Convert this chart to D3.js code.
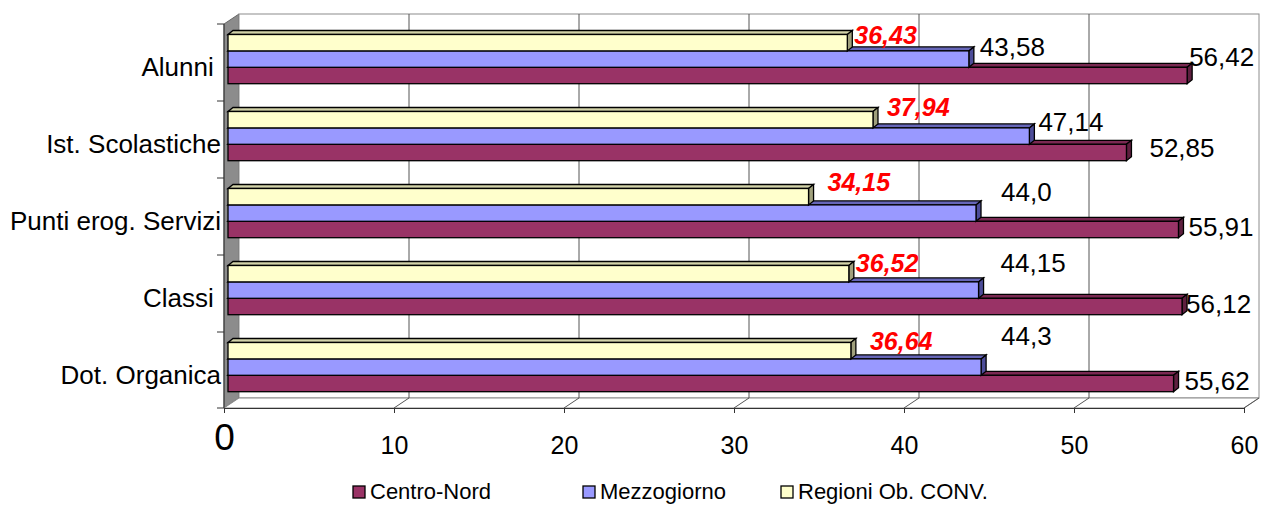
<!DOCTYPE html>
<html>
<head>
<meta charset="utf-8">
<script src="https://cdn.jsdelivr.net/npm/d3@7"></script>
<style>
  body { margin: 0; background: #fff; }
  svg { display: block; font-family: "Liberation Sans", Arial, sans-serif; }
  .cat { white-space: pre; }
</style>
</head>
<body>
<script>
// data
var categories = ["Alunni", "Ist. Scolastiche", "Punti erog. Servizi", "Classi", "Dot. Organica"];
var centroNord = [56.42, 52.85, 55.91, 56.12, 55.62];
var mezzogiorno = [43.58, 47.14, 44.0, 44.15, 44.3];
var regioniConv = [36.43, 37.94, 34.15, 36.52, 36.64];
var centroNordLabels = ["56,42", "52,85", "55,91", "56,12", "55,62"];
var mezzogiornoLabels = ["43,58", "47,14", "44,0", "44,15", "44,3"];
var regioniConvLabels = ["36,43", "37,94", "34,15", "36,52", "36,64"];
var xTicks = [0, 10, 20, 30, 40, 50, 60];
var seriesNames = ["Centro-Nord", "Mezzogiorno", "Regioni Ob. CONV."];

// layout (manual label nudges as in the excel sheet, px from bar end / bar top)
var labelNudge = {
  "Centro-Nord": [[2, -1], [23, 13], [10, 15], [4, 15], [11, 15]],
  "Mezzogiorno": [[11, 5], [9, 3], [25, -4], [22, -10], [20, -14]],
  "Regioni Ob. CONV.": [[7, 9], [14, 4], [19, 2], [7, 6], [19, 7]]
};
var legendX = [353, 583, 781];

var width = 1261, height = 505;
var depth = {dx: 15, dy: -10};   // wall depth
var bar3d = {dx: 5, dy: -4};     // bar depth
var barShift = 4;

var series = [
  {name: seriesNames[0], values: centroNord, labels: centroNordLabels, face: "#993366", top: "#7a2952", side: "#5e1f3f", label: "#000", weight: "normal", style: "normal"},
  {name: seriesNames[1], values: mezzogiorno, labels: mezzogiornoLabels, face: "#9999ff", top: "#6666b8", side: "#4d4d99", label: "#000", weight: "normal", style: "normal"},
  {name: seriesNames[2], values: regioniConv, labels: regioniConvLabels, face: "#ffffcc", top: "#d2d2a8", side: "#a0a07c", label: "#ff0000", weight: "bold", style: "italic"}
];

var x = d3.scaleLinear().domain([0, 60]).range([224, 1244]);
var y = d3.scaleBand().domain(categories).range([24, 409]);
var inner = d3.scaleBand().domain(seriesNames.slice().reverse()).range([10.5, 59.7]);

var svg = d3.select("body").append("svg")
  .attr("width", width)
  .attr("height", height);

var yFront = y.range()[1] - 1, yTop = y.range()[0];

// side wall
svg.append("polygon")
  .attr("points", [[x(0), yTop], [x(0) + depth.dx, yTop + depth.dy], [x(0) + depth.dx, yFront + depth.dy], [x(0), yFront]].join(" "))
  .attr("fill", "#8c8c8c")
  .attr("stroke", "#666");

// back wall
svg.append("rect")
  .attr("x", x(0) + depth.dx)
  .attr("y", yTop + depth.dy)
  .attr("width", x(60) - x(0))
  .attr("height", yFront - yTop)
  .attr("fill", "#fff")
  .attr("stroke", "#8c8c8c");

// floor
svg.append("polygon")
  .attr("points", [[x(0), yFront], [x(0) + depth.dx, yFront + depth.dy], [x(60) + depth.dx, yFront + depth.dy], [x(60), yFront]].join(" "))
  .attr("fill", "#fff")
  .attr("stroke", "#8c8c8c");

// gridlines
svg.selectAll(".grid").data(xTicks.slice(1, -1)).enter().append("line")
  .attr("class", "grid")
  .attr("x1", d => x(d) + depth.dx).attr("x2", d => x(d) + depth.dx)
  .attr("y1", yTop + depth.dy).attr("y2", yFront + depth.dy)
  .attr("stroke", "#555");

svg.selectAll(".floorline").data(xTicks.slice(1)).enter().append("line")
  .attr("class", "floorline")
  .attr("x1", d => x(d) + depth.dx).attr("x2", d => x(d))
  .attr("y1", yFront + depth.dy).attr("y2", yFront)
  .attr("stroke", "#555");

// x axis on the front edge
var xAxis = d3.axisBottom(x).tickValues(xTicks).tickSize(5).tickPadding(23).tickFormat(d3.format("d"));
var gx = svg.append("g")
  .attr("transform", "translate(0," + yFront + ")")
  .call(xAxis);
gx.select(".domain").attr("stroke", "#333");
gx.selectAll(".tick line").attr("stroke", "#333");
gx.selectAll(".tick text")
  .attr("font-size", 25)
  .attr("font-family", "Liberation Sans, Arial, sans-serif")
  .attr("fill", "#000");
gx.selectAll(".tick text").filter(d => d === 0)
  .attr("font-size", 37)
  .attr("y", 16);

// category axis
svg.append("line")
  .attr("x1", x(0)).attr("x2", x(0))
  .attr("y1", yTop).attr("y2", yFront)
  .attr("stroke", "#333");
svg.selectAll(".ctick").data(categories.map(c => y(c)).concat([yFront])).enter().append("line")
  .attr("class", "ctick")
  .attr("x1", x(0) - 7).attr("x2", x(0))
  .attr("y1", d => d).attr("y2", d => d)
  .attr("stroke", "#333");

svg.selectAll(".cat").data(categories).enter().append("text")
  .attr("class", "cat")
  .attr("x", x(0) - 3)
  .attr("y", d => y(d) + y.bandwidth() / 2 + 13)
  .attr("text-anchor", "end")
  .attr("font-size", 26)
  .text(d => (d === "Alunni" || d === "Classi") ? d + " " : d);

// bars, drawn bottom series first
var h = inner.bandwidth();
series.forEach(function(s) {
  var g = svg.append("g").attr("class", "series");
  categories.forEach(function(c, i) {
    var x0 = x(0) + barShift, xe = x(s.values[i]) + barShift;
    var ty = y(c) + inner(s.name);
    g.append("polygon")
      .attr("points", [[x0, ty], [x0 + bar3d.dx, ty + bar3d.dy], [xe + bar3d.dx, ty + bar3d.dy], [xe, ty]].join(" "))
      .attr("fill", s.top).attr("stroke", "#000").attr("stroke-width", 1.3);
    g.append("polygon")
      .attr("points", [[xe, ty], [xe + bar3d.dx, ty + bar3d.dy], [xe + bar3d.dx, ty + h + bar3d.dy], [xe, ty + h]].join(" "))
      .attr("fill", s.side).attr("stroke", "#000").attr("stroke-width", 1.3);
    g.append("rect")
      .attr("x", x0).attr("y", ty)
      .attr("width", xe - x0).attr("height", h)
      .attr("fill", s.face).attr("stroke", "#000").attr("stroke-width", 1.3);
  });
});

// data labels
series.forEach(function(s) {
  svg.append("g").selectAll("text").data(categories).enter().append("text")
    .attr("x", (c, i) => x(s.values[i]) + barShift + labelNudge[s.name][i][0])
    .attr("y", (c, i) => y(c) + inner(s.name) + labelNudge[s.name][i][1])
    .attr("font-size", s.weight === "bold" ? 25 : 26)
    .attr("font-weight", s.weight)
    .attr("font-style", s.style)
    .attr("fill", s.label)
    .text((c, i) => s.labels[i]);
});

// legend
var leg = svg.append("g").selectAll("g").data(series).enter().append("g")
  .attr("transform", (d, i) => "translate(" + legendX[i] + ",486)");
leg.append("rect")
  .attr("width", 12).attr("height", 12)
  .attr("fill", d => d.face)
  .attr("stroke", "#000").attr("stroke-width", 1.3);
leg.append("text")
  .attr("x", 17).attr("y", 13)
  .attr("font-size", 22)
  .text(d => d.name);
</script>
</body>
</html>
